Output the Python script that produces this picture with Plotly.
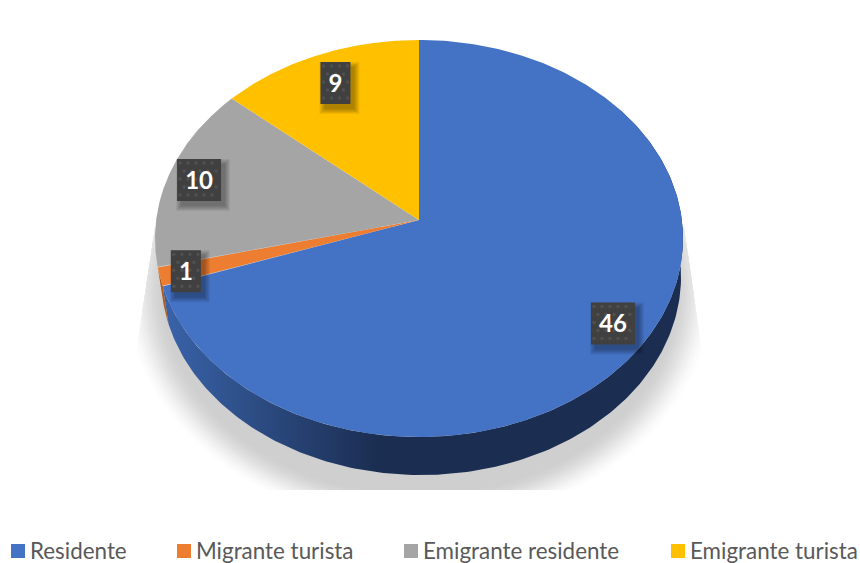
import numpy as np
import plotly.graph_objects as go

categories = ["Residente", "Migrante turista", "Emigrante residente", "Emigrante turista"]
values = [46, 1, 10, 9]
colors = ["#4472c4", "#ed7d31", "#a5a5a5", "#ffc000"]
wall_colors = ["#2f5597", "#ae5a21", "#7c7c7c", "#bf9000"]

# how far out along each slice the data label sits
label_radius = [0.857, 0.90, 0.88, 0.83]

legend_marker_x = [18, 184, 411, 678]
legend_text_x = [30, 196, 423, 690]

# pie drawn in pixel coordinates, circle goes through a perspective map
CX, CY = 419, 220
RX, RY = 262.85, 196.8
PERSP = 0.0932
DEPTH = 38
FONT = "Lato, 'Open Sans', sans-serif"


def project(turn):
    ang = 2 * np.pi * np.asarray(turn, dtype=float)
    d = 1 + PERSP * np.cos(ang)
    x = CX + RX * np.sin(ang) / d
    y = CY - RY * np.cos(ang) / d
    return x, y


def project_bottom(turn):
    # underside of the disc sits a bit further away, so it is a little narrower
    x, y = project(turn)
    return CX + 2 + (x - CX) * 0.985, y + DEPTH


def add_poly(fig, x, y, color, **kwargs):
    fig.add_trace(go.Scatter(
        x=list(x), y=list(y),
        mode='lines',
        fill='toself',
        fillcolor=color,
        line=dict(width=0),
        hoverinfo='skip',
        **kwargs,
    ))


fig = go.Figure()

# floor shadow: soft ellipse cut by a trapezoid
t = np.linspace(0, 2 * np.pi, 361)
steps = 20
for i in range(steps):
    k = i / (steps - 1)
    scale = 1.06 - 0.16 * k
    sx = 419 + 282 * scale * np.cos(t)
    sy = 290 + 226 * scale * np.sin(t)
    sy = np.clip(sy, 227, 490)
    sx = np.clip(sx, 155 - (sy - 227) * 0.15, 684 + (sy - 227) * 0.145)
    ease = k * k * (3 - 2 * k)
    g = int(round(255 - (255 - 207) * ease))
    add_poly(fig, sx, sy, f"rgb({g},{g},{g})")

edges = np.cumsum([0] + values) / sum(values)

# side wall
turns = np.linspace(0.15, edges[1], 200)
x0, y0 = project(turns)
x1, y1 = project_bottom(turns)
fig.add_trace(go.Scatter(
    x=list(x0) + list(x1[::-1]), y=list(y0) + list(y1[::-1]),
    mode='lines',
    line=dict(width=0),
    fill='toself',
    fillgradient=dict(
        type='horizontal',
        colorscale=[[0, "#3a64ab"], [0.45, "#1b2e52"], [1, "#1b2e52"]],
        start=160, stop=640,
    ),
    hoverinfo='skip',
))
turns = np.linspace(edges[1], edges[2], 12)
x0, y0 = project(turns)
x1, y1 = project_bottom(turns)
add_poly(fig, list(x0) + list(x1[::-1]), list(y0) + list(y1[::-1]), wall_colors[1])

# top faces
for i in range(len(values)):
    turns = np.linspace(edges[i], edges[i + 1], 300)
    x, y = project(turns)
    add_poly(fig, [CX] + list(x) + [CX], [CY] + list(y) + [CY], colors[i])

# data labels, dark box with soft shadow and dotted fill
for i, v in enumerate(values):
    lx, ly = project((edges[i] + edges[i + 1]) / 2)
    lx = CX + (lx - CX) * label_radius[i]
    ly = CY + (ly - CY) * label_radius[i]
    hw = 15 if v < 10 else 22
    hh = 21
    for s in range(6):
        grow = 5 - s
        add_poly(fig,
                 [lx - hw + 4 - grow, lx + hw + 4 + grow, lx + hw + 4 + grow, lx - hw + 4 - grow, lx - hw + 4 - grow],
                 [ly - hh + 5 - grow, ly - hh + 5 - grow, ly + hh + 5 + grow, ly + hh + 5 + grow, ly - hh + 5 - grow],
                 "rgba(0,0,0,0.06)")
    add_poly(fig,
             [lx - hw, lx + hw, lx + hw, lx - hw, lx - hw],
             [ly - hh, ly - hh, ly + hh, ly + hh, ly - hh],
             "#404040")
    dot_x = []
    dot_y = []
    for row, dy in enumerate(np.arange(-hh + 4, hh, 8)):
        for dx in np.arange(-hw + 3 + (row % 2) * 4, hw - 1, 8):
            dot_x.append(lx + dx)
            dot_y.append(ly + dy)
    fig.add_trace(go.Scatter(
        x=dot_x, y=dot_y,
        mode='markers',
        marker=dict(color="#505050", size=3.5),
        hoverinfo='skip',
    ))
    fig.add_trace(go.Scatter(
        x=[lx], y=[ly + 3],
        mode='text',
        text=[f"<b>{v}</b>"],
        textposition='middle center',
        textfont=dict(family=FONT, size=24, color="white"),
        hoverinfo='skip',
    ))

# legend
for i, name in enumerate(categories):
    fig.add_trace(go.Scatter(
        x=[legend_marker_x[i]], y=[551],
        mode='markers',
        marker=dict(symbol='square', size=14, color=colors[i]),
        hoverinfo='skip',
    ))
    fig.add_trace(go.Scatter(
        x=[legend_text_x[i]], y=[553],
        mode='text',
        text=[name],
        textposition='middle right',
        textfont=dict(family=FONT, size=22.4, color="#595959"),
        hoverinfo='skip',
    ))

fig.update_layout(
    width=860, height=563,
    showlegend=False,
    margin=dict(l=0, r=0, t=0, b=0),
    paper_bgcolor='white',
    plot_bgcolor='white',
    xaxis=dict(range=[0, 860], visible=False),
    yaxis=dict(range=[563, 0], visible=False),
)

fig.write_html("out.html", config=dict(displayModeBar=False),
               post_script="document.body.style.margin='0';")
